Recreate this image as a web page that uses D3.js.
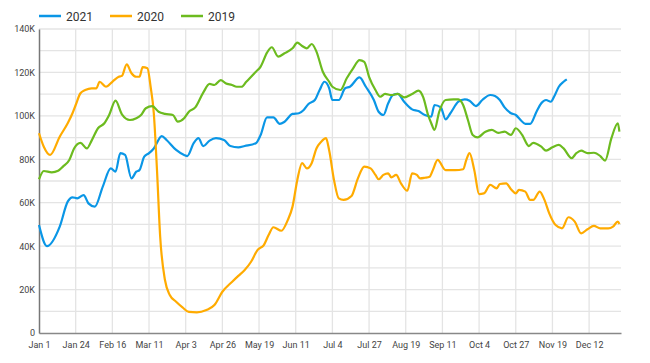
<!DOCTYPE html>
<html>
<head>
<meta charset="utf-8">
<script src="https://cdn.jsdelivr.net/npm/d3@7"></script>
<style>
  body { margin: 0; background: #fff; }
  svg text { font-family: Roboto, "Noto Sans", sans-serif; }
</style>
</head>
<body>
<div id="chart"></div>
<script>

// Day-of-year ticks and their labels
var tickDays = [0, 23, 46, 69, 92, 115, 138, 161, 184, 207, 230, 253, 276, 299, 322, 345];
var tickLabels = ["Jan 1", "Jan 24", "Feb 16", "Mar 11", "Apr 3", "Apr 26", "May 19", "Jun 11",
                  "Jul 4", "Jul 27", "Aug 19", "Sep 11", "Oct 4", "Oct 27", "Nov 19", "Dec 12"];

var seriesNames = ["2021", "2020", "2019"];
var seriesColors = ["#0a96e6", "#ffab00", "#6cbb1f"];

// [day of year, value]
var data2021 = [
  [0, 49700], [5, 40000], [13, 49000], [18, 60500], [21, 62500], [24, 62000], [28, 63500],
  [31, 59700], [35, 58200], [40, 67400], [45, 75800], [48, 74300], [51, 82800], [54, 82000],
  [58, 71200], [61, 74300], [63, 75000], [66, 81200], [69, 82800], [72, 85000], [77, 90700],
  [80, 88900], [86, 84300], [91, 82000], [93, 81500], [97, 87400], [100, 89700], [103, 86100],
  [107, 88600], [111, 89700], [116, 88900], [120, 86100], [125, 85500], [129, 86100],
  [136, 87400], [139, 91200], [143, 99300], [147, 99300], [151, 96300], [154, 97300],
  [159, 100900], [163, 101200], [166, 102700], [169, 105500], [173, 107300], [176, 111900],
  [179, 115700], [182, 112700], [184, 107300], [188, 107300], [192, 112700], [195, 113400],
  [201, 117700], [205, 113400], [210, 107300], [213, 101900], [216, 100400], [219, 105800],
  [222, 109600], [225, 110100], [229, 106500], [234, 103000], [238, 102200], [242, 100400],
  [246, 99600], [248, 105000], [252, 103900], [255, 98400], [258, 101200], [263, 106500],
  [267, 107600], [270, 107000], [274, 104500], [278, 107300], [283, 109600], [286, 109100],
  [289, 107300], [292, 103900], [296, 101200], [299, 100400], [302, 98100], [305, 96300],
  [308, 96300], [312, 101900], [315, 105800], [318, 107300], [321, 106500], [323, 108800],
  [326, 113400], [329, 115700], [331, 116800]
];

var data2020 = [
  [0, 92000], [3, 85800], [7, 82000], [13, 90400], [18, 96600], [21, 101200], [23, 105000],
  [26, 110400], [29, 111900], [33, 112700], [36, 112700], [38, 115700], [42, 113400],
  [46, 115700], [50, 118000], [52, 118400], [55, 123700], [58, 119600], [61, 118000],
  [63, 118000], [65, 122400], [68, 121900], [70, 113400], [72, 101200], [74, 75000],
  [76, 44300], [79, 24400], [82, 17500], [86, 14400], [90, 11800], [94, 9700], [99, 9500],
  [105, 10600], [110, 12900], [115, 19000], [121, 23500], [125, 26300], [129, 29000],
  [133, 32800], [137, 38200], [141, 40500], [144, 45100], [147, 48700], [152, 47100],
  [156, 52000], [159, 58200], [162, 70500], [165, 78200], [168, 75800], [171, 78200],
  [174, 85000], [177, 88100], [180, 89700], [182, 84000], [185, 70500], [188, 62000],
  [191, 61300], [196, 63100], [200, 71200], [204, 76600], [208, 75800], [211, 72800],
  [213, 70800], [216, 72800], [219, 73500], [221, 71700], [224, 72800], [227, 68900],
  [231, 65500], [234, 73500], [237, 72800], [239, 71200], [242, 71500], [245, 72000],
  [247, 75000], [250, 79700], [255, 75000], [261, 75000], [266, 75400], [268, 79700],
  [270, 82800], [273, 75000], [276, 64000], [279, 64300], [283, 68200], [287, 66600],
  [289, 68600], [293, 68900], [296, 66200], [299, 64300], [301, 65900], [305, 65100],
  [308, 61300], [310, 61300], [314, 65100], [317, 61300], [320, 55100], [324, 49700],
  [328, 48200], [332, 53300], [336, 51300], [340, 45900], [344, 47800], [348, 49300],
  [352, 48200], [357, 48200], [360, 49000], [363, 51300], [364, 50200]
];

var data2019 = [
  [0, 70800], [3, 74600], [8, 74000], [12, 74700], [15, 76600], [19, 79700], [22, 85000],
  [26, 87600], [30, 85000], [33, 88600], [37, 94300], [41, 96600], [44, 100400], [48, 107000],
  [52, 100700], [57, 98100], [61, 98900], [64, 100400], [67, 103500], [71, 104500],
  [75, 101900], [79, 100900], [84, 100400], [87, 97300], [91, 98900], [94, 101900],
  [98, 103900], [103, 110700], [107, 114700], [110, 114200], [114, 116500], [117, 115000],
  [121, 114200], [124, 113400], [127, 113400], [130, 115700], [136, 120300], [139, 122700],
  [143, 129100], [146, 131600], [150, 127300], [154, 128800], [159, 131100], [162, 133700],
  [165, 132200], [168, 131100], [171, 133100], [174, 129600], [178, 120300], [182, 115700],
  [184, 113400], [189, 111900], [193, 117300], [197, 121900], [201, 125700], [204, 124900],
  [207, 118000], [211, 111900], [214, 108800], [217, 110100], [221, 109600], [225, 110100],
  [229, 108500], [234, 110100], [238, 111600], [241, 108500], [244, 100400], [246, 96600],
  [248, 93500], [251, 101900], [255, 107300], [260, 107600], [263, 107600], [266, 105000],
  [269, 98100], [272, 91200], [275, 90100], [280, 92700], [284, 93500], [288, 92200],
  [292, 92700], [296, 91200], [299, 94300], [303, 91200], [306, 87000], [307, 86100],
  [310, 87600], [315, 85800], [318, 84000], [322, 85500], [326, 86600], [329, 85000],
  [334, 80500], [337, 82800], [340, 84000], [344, 82800], [348, 83000], [352, 81500],
  [355, 79400], [359, 89700], [363, 96600], [364, 92700]
];

var yTicks = [0, 20000, 40000, 60000, 80000, 100000, 120000, 140000];

var width = 650, height = 363;
var margin = { top: 29, right: 29, bottom: 30, left: 39 };

var svg = d3.select("#chart").append("svg")
    .attr("width", width)
    .attr("height", height);

var x = d3.scaleLinear()
    .domain([0, 365])
    .range([margin.left, width - margin.right]);

var y = d3.scaleLinear()
    .domain([0, 140000])
    .range([height - margin.bottom, margin.top]);

// gridlines
var grid = svg.append("g").attr("class", "grid");

grid.selectAll("line.h")
    .data(d3.range(10000, 140001, 10000))
    .enter().append("line")
    .attr("x1", x(0))
    .attr("x2", x(365))
    .attr("y1", function(d) { return y(d); })
    .attr("y2", function(d) { return y(d); })
    .attr("stroke", "#e4e4e4")
    .attr("stroke-width", 1.3);

grid.selectAll("line.v")
    .data(tickDays.slice(1))
    .enter().append("line")
    .attr("x1", function(d) { return x(d); })
    .attr("x2", function(d) { return x(d); })
    .attr("y1", y(140000))
    .attr("y2", y(0))
    .attr("stroke", "#e4e4e4")
    .attr("stroke-width", 1.3);

// axes
var xAxis = d3.axisBottom(x)
    .tickValues(tickDays)
    .tickFormat(function(d, i) { return tickLabels[i]; })
    .tickSize(0)
    .tickPadding(9);

var yAxis = d3.axisLeft(y)
    .tickValues(yTicks)
    .tickFormat(function(d) { return d === 0 ? "0" : (d / 1000) + "K"; })
    .tickSize(0)
    .tickPadding(4);

var gx = svg.append("g")
    .attr("transform", "translate(0," + y(0) + ")")
    .call(xAxis);
gx.select(".domain").attr("stroke", "#888").attr("stroke-width", 1.3);
gx.selectAll("text").attr("fill", "#444").style("font-size", "9px");

var gy = svg.append("g")
    .attr("transform", "translate(" + x(0) + ",0)")
    .call(yAxis);
gy.select(".domain").attr("stroke", "#777").attr("stroke-width", 1.5);
gy.selectAll("text").attr("fill", "#444").style("font-size", "9px");

// lines
var line = d3.line()
    .curve(d3.curveMonotoneX)
    .x(function(d) { return x(d[0]); })
    .y(function(d) { return y(d[1]); });

var allSeries = [data2021, data2020, data2019];

svg.selectAll("path.series")
    .data(allSeries)
    .enter().append("path")
    .attr("class", "series")
    .attr("fill", "none")
    .attr("stroke", function(d, i) { return seriesColors[i]; })
    .attr("stroke-width", 2.2)
    .attr("stroke-linejoin", "round")
    .attr("d", line);

// legend
var legendX = [39, 110, 181];
var legend = svg.selectAll("g.legend")
    .data(seriesNames)
    .enter().append("g")
    .attr("class", "legend")
    .attr("transform", function(d, i) { return "translate(" + legendX[i] + ",16)"; });

legend.append("line")
    .attr("x1", 0).attr("x2", 22)
    .attr("stroke", function(d, i) { return seriesColors[i]; })
    .attr("stroke-width", 2.5);

legend.append("text")
    .attr("x", 27)
    .attr("y", 4.5)
    .attr("fill", "#333")
    .style("font-size", "12px")
    .text(function(d) { return d; });

</script>
</body>
</html>
